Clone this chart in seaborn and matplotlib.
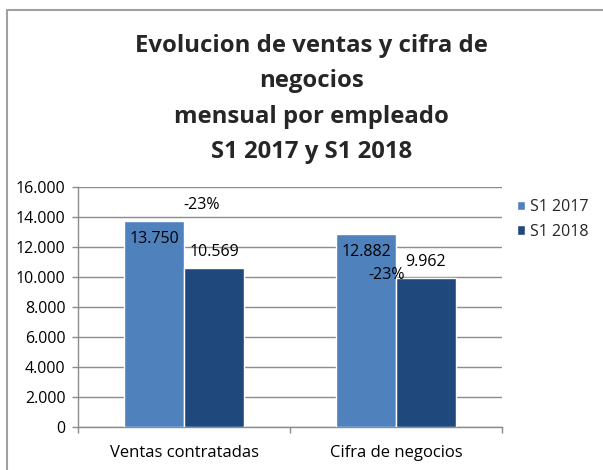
import numpy as np
import pandas as pd
import seaborn as sns
import matplotlib.pyplot as plt
from matplotlib.lines import Line2D

# data
categorias = ['Ventas contratadas', 'Cifra de negocios']
series = ['S1 2017', 'S1 2018']
valores_2017 = [13750, 12882]
valores_2018 = [10569, 9962]
yticks = [0, 2000, 4000, 6000, 8000, 10000, 12000, 14000, 16000]
titulo = 'Evolucion de ventas y cifra de\nnegocios\nmensual por empleado\nS1 2017 y S1 2018'

colores = ['#4F81BD', '#1F497D']
grid_color = '#8C8C8C'
# pixel offsets of the "-23%" labels from (left edge, top of 2018 bar)
pct_offsets = [(18, 63), (-9, 3)]


def miles(v):
    return f"{v:,.0f}".replace(',', '.')


df = pd.DataFrame({
    'categoria': categorias * 2,
    'serie': [series[0]] * 2 + [series[1]] * 2,
    'valor': valores_2017 + valores_2018,
})

sns.set_theme(style='white')
plt.rcParams['font.family'] = ['Open Sans', 'DejaVu Sans']

fig = plt.figure(figsize=(6.03, 4.70), dpi=100)
ax = fig.add_axes([78 / 603, 1 - 427 / 470, (502 - 78) / 603, 240 / 470])

sns.barplot(data=df, x='categoria', y='valor', hue='serie', palette=colores,
            width=0.567, gap=0, saturation=1, ax=ax, legend=True, zorder=3)

ax.set_ylim(0, 16000)
ax.set_xlim(-0.5, 1.5)
ax.set_yticks(yticks)
ax.set_yticklabels([miles(v) for v in yticks])
ax.set_xlabel('')
ax.set_ylabel('')
ax.grid(axis='y', color=grid_color, linewidth=1.0, zorder=0)
ax.set_axisbelow(True)
for s in ['top', 'right']:
    ax.spines[s].set_visible(False)
for s in ['left', 'bottom']:
    ax.spines[s].set_color(grid_color)
    ax.spines[s].set_linewidth(1.0)

fs = 11.5
ax.tick_params(axis='y', which='major', left=True, length=4, width=1, color=grid_color,
               labelsize=fs, pad=5, labelcolor='black')
ax.tick_params(axis='x', which='major', bottom=False, labelsize=12, pad=7, labelcolor='black')
ax.set_xticks([-0.5, 0.5, 1.5], minor=True)
ax.tick_params(axis='x', which='minor', bottom=True, length=4, width=1, color=grid_color)

# data labels
for i, cont in enumerate(ax.containers[:2]):
    for bar in cont:
        cx = bar.get_x() + bar.get_width() / 2
        h = bar.get_height()
        dy = -18 if i == 0 else 16
        ax.annotate(miles(h), xy=(cx, h), xytext=(0, dy), textcoords='offset pixels',
                    ha='center', va='center', fontsize=fs, color='black')

# variation labels
bars18 = ax.containers[1]
for j, (a, b) in enumerate(zip(valores_2017, valores_2018)):
    var = (b / a - 1) * 100
    bar = bars18[j]
    ox, oy = pct_offsets[j]
    ax.annotate(f"{var:.0f}%", xy=(bar.get_x(), bar.get_height()), xytext=(ox, oy),
                textcoords='offset pixels', ha='center', va='center', fontsize=fs, color='black')

leg = ax.legend(loc='upper left', bbox_to_anchor=(1.02, 0.975), frameon=False,
                fontsize=fs, handlelength=0.5, handleheight=0.5, handletextpad=0.3,
                labelspacing=0.52, borderaxespad=0)

fig.text(0.516, 1 - 99 / 470, titulo, ha='center', va='center', fontsize=17.2, fontweight='bold',
         linespacing=1.62, multialignment='center')

# chart frame (cropped on right and bottom)
fig.add_artist(Line2D([7 / 603, 1], [1 - 10 / 470] * 2, color='#A0A0A0', linewidth=1.5,
                      transform=fig.transFigure))
fig.add_artist(Line2D([7 / 603] * 2, [0, 1 - 10 / 470], color='#A0A0A0', linewidth=1.5,
                      transform=fig.transFigure))

fig.savefig('out.png', dpi=100)
